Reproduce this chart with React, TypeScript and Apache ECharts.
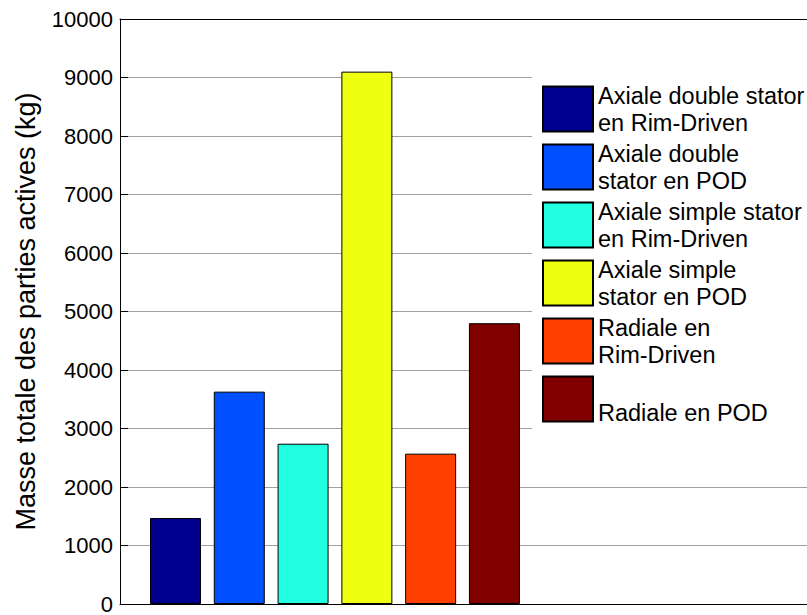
import React, { useEffect, useRef } from "react";
import * as echarts from "echarts";

const seriesNames = [
  "Axiale double stator en Rim-Driven",
  "Axiale double stator en POD",
  "Axiale simple stator en Rim-Driven",
  "Axiale simple stator en POD",
  "Radiale en Rim-Driven",
  "Radiale en POD",
];
const legendLabels = [
  "Axiale double stator\nen Rim-Driven",
  "Axiale double\nstator en POD",
  "Axiale simple stator\nen Rim-Driven",
  "Axiale simple\nstator en POD",
  "Radiale en\nRim-Driven",
  "\nRadiale en POD",
];
const positions = [1, 2, 3, 4, 5, 6];
const masses = [1470, 3630, 2740, 9100, 2570, 4800];
const colors = ["#00008F", "#0050FF", "#20FFDF", "#EFFF10", "#FF4000", "#800000"];
const yTicks = { min: 0, max: 10000, interval: 1000 };

const FONT = "'Liberation Sans', Arial, Helvetica, sans-serif";

export default function App() {
  const ref = useRef<HTMLDivElement>(null);
  useEffect(() => {
    if (!ref.current) return;
    const chart = echarts.init(ref.current, null, { renderer: "svg" });
    const series = seriesNames.map((name, i) => ({
      type: "bar",
      name,
      data: [[positions[i], masses[i]]],
      barWidth: 51,
      barGap: "-100%",
      itemStyle: { color: colors[i], borderColor: "#000", borderWidth: 1 },
    }));
    const xCommon = {
      type: "value",
      min: 0.13,
      max: 10.9,
      axisLine: { show: true, onZero: false, lineStyle: { color: "#000", width: 1 } },
      axisTick: { show: false },
      axisLabel: { show: false },
      splitLine: { show: false },
    };
    chart.setOption({
      animation: false,
      backgroundColor: "#fff",
      grid: { left: 120, top: 19, bottom: 9, right: 0, containLabel: false },
      legend: {
        orient: "vertical",
        left: 532,
        top: 77,
        backgroundColor: "#fff",
        borderWidth: 0,
        padding: [5, 400, 8, 10],
        itemWidth: 50,
        itemHeight: 45,
        itemGap: 4,
        icon: "rect",
        formatter: (name: string) => legendLabels[seriesNames.indexOf(name)],
        textStyle: { fontFamily: FONT, fontSize: 23.5, lineHeight: 27, color: "#000" },
        data: seriesNames,
      },
      xAxis: [
        { ...xCommon, position: "bottom" },
        { ...xCommon, position: "top" },
      ],
      yAxis: {
        type: "value",
        min: yTicks.min,
        max: yTicks.max,
        interval: yTicks.interval,
        name: "Masse totale des parties actives (kg)",
        nameLocation: "middle",
        nameGap: 81,
        nameTextStyle: { fontFamily: FONT, fontSize: 27, color: "#000" },
        axisLine: { show: true, lineStyle: { color: "#000", width: 1 } },
        axisTick: { show: true, inside: true, length: 8, lineStyle: { color: "#000" } },
        axisLabel: {
          fontFamily: FONT,
          fontSize: 22,
          color: "#000",
          margin: 7,
          formatter: (v: number) => String(v),
        },
        splitLine: { show: true, lineStyle: { color: "#a0a0a0", width: 1 } },
      },
      series,
    });
    return () => chart.dispose();
  }, []);
  return (
    <div
      ref={ref}
      style={{ position: "fixed", left: 0, top: 0, width: 807, height: 615, background: "#fff" }}
    />
  );
}
